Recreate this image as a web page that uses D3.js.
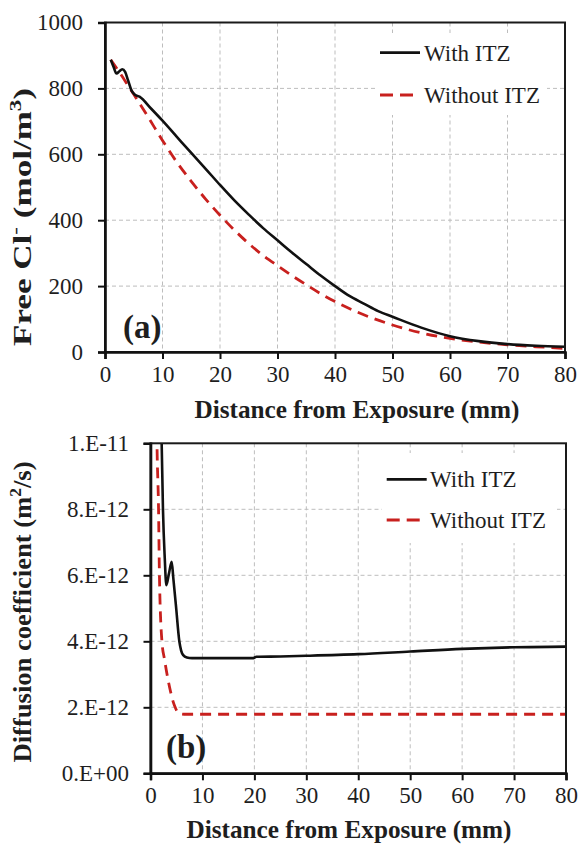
<!DOCTYPE html>
<html><head><meta charset="utf-8">
<script src="https://cdn.jsdelivr.net/npm/d3@7/dist/d3.min.js"></script>
<style>body{margin:0;background:#fff}svg{display:block}</style>
</head><body>
<script>
// ---------- data ----------
const distanceTicks = [0, 10, 20, 30, 40, 50, 60, 70, 80];
const chlorideTicks = [0, 200, 400, 600, 800, 1000];
const diffusionTicks = [0, 2e-12, 4e-12, 6e-12, 8e-12, 1e-11];
const diffusionTickLabels = ["0.E+00", "2.E-12", "4.E-12", "6.E-12", "8.E-12", "1.E-11"];
const seriesNames = ["With ITZ", "Without ITZ"];

// (a) free chloride, mol/m3
const clWithX = [1, 1.5, 2, 2.5, 3, 3.5, 4, 4.6, 5.2, 6, 8, 10, 12.5, 15, 17.5, 20, 22.5, 25, 27.5, 30, 32.5, 35, 37.5, 40, 42.5, 45, 47.5, 50, 55, 60, 65, 70, 75, 80];
const clWithY = [887, 865, 845, 852, 858, 850, 825, 794, 781, 775, 739, 702, 653, 604, 556, 507, 460, 417, 376, 339, 302, 267, 232, 200, 170, 147, 124, 107, 74, 48, 33, 24, 19, 16];
const clWithoutX = [1, 2, 3, 4, 5, 7.5, 10, 12.5, 15, 17.5, 20, 22.5, 25, 27.5, 30, 32.5, 35, 37.5, 40, 45, 50, 55, 60, 65, 70, 75, 80];
const clWithoutY = [887, 862, 836, 809, 782, 713, 642, 576, 518, 464, 415, 370, 329, 293, 262, 232, 204, 177, 153, 113, 82, 58, 41, 30, 22, 16, 11];

// (b) diffusion coefficient, m2/s
const dWithX = [2.0, 2.15, 2.4, 2.75, 3.05, 3.55, 4.08, 4.4, 4.9, 5.55, 5.9, 6.3, 7.0, 8.0, 10, 15, 19.8, 20.4, 25, 30, 40, 50, 60, 70, 80];
const dWithY = [11.5e-12, 10e-12, 8e-12, 6.5e-12, 5.7e-12, 6.05e-12, 6.41e-12, 5.9e-12, 5.08e-12, 4.0e-12, 3.72e-12, 3.58e-12, 3.51e-12, 3.49e-12, 3.49e-12, 3.49e-12, 3.49e-12, 3.53e-12, 3.54e-12, 3.56e-12, 3.61e-12, 3.69e-12, 3.77e-12, 3.82e-12, 3.84e-12];
const dWithoutX = [1.1, 1.25, 1.55, 1.72, 2.2, 2.7, 3.3, 3.9, 4.4, 4.75, 5.1, 5.6, 6.5, 10, 20, 30, 40, 50, 60, 70, 80];
const dWithoutY = [12e-12, 10e-12, 8e-12, 6e-12, 4e-12, 3.45e-12, 2.9e-12, 2.45e-12, 2.15e-12, 2.0e-12, 1.88e-12, 1.81e-12, 1.79e-12, 1.79e-12, 1.79e-12, 1.79e-12, 1.79e-12, 1.79e-12, 1.79e-12, 1.79e-12, 1.79e-12];

// ---------- drawing ----------
const W = 580, H = 847;
const FONT = "'Liberation Serif', 'Times New Roman', Times, serif";
const RED = "#c8201e";
const INK = "#1e1e1e";
const svg = d3.select("body").append("svg").attr("width", W).attr("height", H)
  .attr("font-family", FONT).style("font-family", FONT);

function panel(cfg) {
  const g = svg.append("g");
  const x = d3.scaleLinear().domain([0, 80]).range([cfg.left, cfg.right]);
  const y = d3.scaleLinear().domain([0, cfg.yMax]).range([cfg.bottom, cfg.top]);

  // grid
  g.append("g").selectAll("line").data(distanceTicks.slice(1, -1)).join("line")
    .attr("x1", d => x(d)).attr("x2", d => x(d)).attr("y1", cfg.top).attr("y2", cfg.bottom)
    .attr("stroke", "#bdbdbd").attr("stroke-width", 1).attr("stroke-dasharray", "4,3");
  g.append("g").selectAll("line").data(cfg.yTicks.slice(1, -1)).join("line")
    .attr("y1", d => y(d)).attr("y2", d => y(d)).attr("x1", cfg.left).attr("x2", cfg.right)
    .attr("stroke", "#bdbdbd").attr("stroke-width", 1).attr("stroke-dasharray", "4,3");

  // legend background
  g.append("rect").attr("x", cfg.legBox[0]).attr("y", cfg.legBox[1])
    .attr("width", cfg.legBox[2]).attr("height", cfg.legBox[3]).attr("fill", "#fff");

  // clip
  const cid = "clip" + cfg.id;
  svg.append("clipPath").attr("id", cid).append("rect")
    .attr("x", cfg.left).attr("y", cfg.top).attr("width", cfg.right - cfg.left).attr("height", cfg.bottom - cfg.top);

  const line = d3.line().x(d => x(d[0])).y(d => y(d[1])).curve(d3.curveMonotoneX);
  const lines = g.append("g").attr("clip-path", `url(#${cid})`);
  lines.append("path").datum(d3.zip(cfg.xs[1], cfg.ys[1])).attr("d", line)
    .attr("fill", "none").attr("stroke", RED).attr("stroke-width", 2.8).attr("stroke-dasharray", "11,7");
  lines.append("path").datum(d3.zip(cfg.xs[0], cfg.ys[0])).attr("d", line)
    .attr("fill", "none").attr("stroke", "#111").attr("stroke-width", 2.6);

  // frame
  g.append("rect").attr("x", cfg.left).attr("y", cfg.top).attr("width", cfg.right - cfg.left)
    .attr("height", cfg.bottom - cfg.top).attr("fill", "none").attr("stroke", "#1a1a1a").attr("stroke-width", 2);

  // axes
  const xAxis = d3.axisBottom(x).tickValues(distanceTicks).tickSize(7).tickPadding(6).tickFormat(d3.format("d"));
  const gx = g.append("g").attr("transform", `translate(0,${cfg.bottom})`).call(xAxis);
  const yAxis = d3.axisLeft(y).tickValues(cfg.yTicks).tickSize(7).tickPadding(cfg.yPad).tickFormat(cfg.yFmt);
  const gy = g.append("g").attr("transform", `translate(${cfg.left},0)`).call(yAxis);
  [gx, gy].forEach(a => {
    a.attr("font-family", FONT).attr("font-size", 23);
    a.select(".domain").attr("stroke", "#111").attr("stroke-width", 2.6);
    a.selectAll(".tick line").attr("stroke", "#111").attr("stroke-width", 2);
    a.selectAll(".tick text").attr("fill", INK).style("font-family", FONT).style("font-size", "23px");
  });
  gx.selectAll(".tick text").attr("dy", "0.74em");

  // legend
  const L = cfg.leg;
  g.append("line").attr("x1", L.x0).attr("x2", L.x1).attr("y1", L.y0).attr("y2", L.y0)
    .attr("stroke", "#111").attr("stroke-width", 2.8);
  g.append("line").attr("x1", L.x0).attr("x2", L.x1 - 6).attr("y1", L.y1).attr("y2", L.y1)
    .attr("stroke", RED).attr("stroke-width", 2.8).attr("stroke-dasharray", "13,7");
  g.selectAll("text.leg").data(seriesNames).join("text").attr("class", "leg")
    .attr("x", L.tx).attr("y", (d, i) => i ? L.y1 + 8 : L.y0 + 8)
    .attr("fill", INK).style("font-size", "23px").text(d => d);

  // panel tag
  g.append("text").attr("x", cfg.tag[0]).attr("y", cfg.tag[1]).attr("fill", INK)
    .style("font-size", "33px").style("font-weight", "bold").text(cfg.tagText);

  // x title
  g.append("text").attr("x", cfg.xt[0]).attr("y", cfg.xt[1]).attr("text-anchor", "middle")
    .attr("fill", INK).style("font-size", "25px").style("font-weight", "bold")
    .attr("textLength", 325).attr("lengthAdjust", "spacingAndGlyphs")
    .text("Distance from Exposure (mm)");

  // y title
  const yt = g.append("text").attr("transform", `translate(${cfg.yt[0]},${cfg.yt[1]}) rotate(-90)`)
    .attr("text-anchor", "middle").attr("fill", INK).style("font-size", "26px").style("font-weight", "bold")
    .attr("textLength", cfg.ytLen).attr("lengthAdjust", "spacingAndGlyphs");
  cfg.yTitle.forEach(p => {
    const t = yt.append("tspan").text(p[0]);
    if (p[1] === "sup") t.attr("dy", -10).style("font-size", "17px");
    if (p[1] === "down") t.attr("dy", 10);
  });
}

panel({
  id: "a", left: 105, right: 565, top: 22.5, bottom: 352, yMax: 1000, yPad: 15,
  yTicks: chlorideTicks, yFmt: d3.format("d"),
  xs: [clWithX, clWithoutX], ys: [clWithY, clWithoutY],
  legBox: [377, 33, 170, 82],
  leg: { x0: 380, x1: 420, y0: 52.7, y1: 95, tx: 424 },
  tag: [123, 338], tagText: "(a)",
  xt: [357, 418], yt: [31, 217], ytLen: 258,
  yTitle: [["Free Cl"], ["-", "sup"], [" (mol/m", "down"], ["3", "sup"], [")", "down"]]
});

panel({
  id: "b", left: 150.5, right: 566, top: 443.3, bottom: 773.3, yMax: 1e-11, yPad: 14.5,
  yTicks: diffusionTicks, yFmt: (d, i) => diffusionTickLabels[i],
  xs: [dWithX, dWithoutX], ys: [dWithY, dWithoutY],
  legBox: [382, 453, 175, 90],
  leg: { x0: 386.7, x1: 426.7, y0: 479.3, y1: 520, tx: 430 },
  tag: [166, 758], tagText: "(b)",
  xt: [349, 838], yt: [31, 612], ytLen: 301,
  yTitle: [["Diffusion coefficient (m"], ["2", "sup"], ["/s)", "down"]]
});
</script>
</body></html>
